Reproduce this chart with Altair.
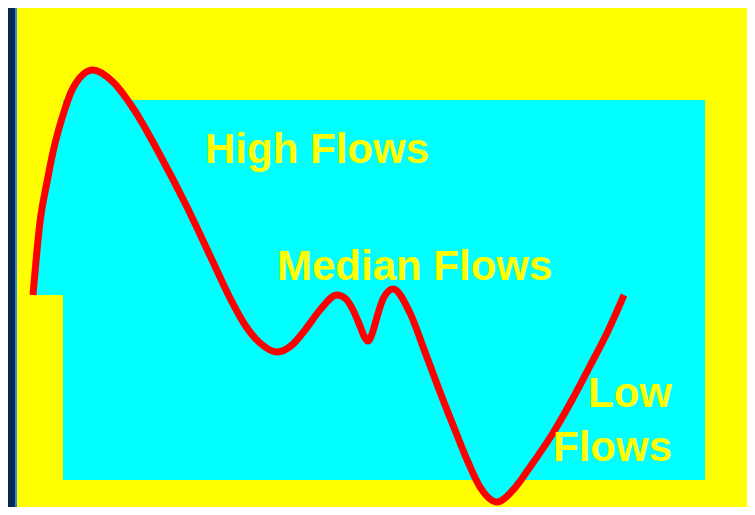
import altair as alt
import pandas as pd

# Hydrograph-style curve (x = position, y = level, screen-like units, y grows downward)
curve_x = [33, 40, 47, 53, 63, 73, 93, 113, 133, 160, 187, 213, 230, 245, 260, 277, 292, 305, 320,
           337, 346, 353, 360, 364, 368, 372, 377, 383, 393, 410, 425, 440, 455, 468, 480, 497,
           513, 530, 553, 572, 590, 607, 624]
curve_y = [295, 222, 182, 152, 115, 88, 70, 82, 108, 155, 207, 262, 298, 325, 343, 352, 345, 330, 310,
           295, 299, 310, 326, 336, 341, 334, 317, 299, 289, 313, 352, 392, 430, 462, 487, 502,
           490, 467, 433, 400, 366, 333, 295]
area_base = 295

# Background panels
panel_names = ["frame_dark", "frame_line", "yellow", "cyan"]
panel_x = [8, 15, 17, 63]
panel_x2 = [15, 17, 747, 705]
panel_y = [8, 8, 8, 100]
panel_y2 = [507, 507, 507, 480]
panel_colors = ["#022a52", "#2f86e0", "#FFFF00", "#00FFFF"]

# Labels
label_text = ["High Flows", "Median Flows", "Low", "Flows"]
label_x = [205, 277, 672, 672]
label_y = [163, 280, 407, 461]
label_align = ["left", "left", "right", "right"]

xs = alt.Scale(domain=[8, 747], nice=False, zero=False)
ys = alt.Scale(domain=[8, 507], reverse=True, nice=False, zero=False)

panels = pd.DataFrame({"name": panel_names, "x": panel_x, "x2": panel_x2,
                       "y": panel_y, "y2": panel_y2, "color": panel_colors})
curve = pd.DataFrame({"x": curve_x, "y": curve_y, "base": [area_base] * len(curve_x)})
labels = pd.DataFrame({"text": label_text, "x": label_x, "y": label_y, "align": label_align})

rects = alt.Chart(panels).mark_rect().encode(
    x=alt.X("x:Q", scale=xs, axis=None),
    x2="x2:Q",
    y=alt.Y("y:Q", scale=ys, axis=None),
    y2="y2:Q",
    color=alt.Color("color:N", scale=None),
)

area = alt.Chart(curve).mark_area(color="#00FFFF", interpolate="monotone", opacity=1).encode(
    x=alt.X("x:Q", scale=xs, axis=None),
    y=alt.Y("y:Q", scale=ys, axis=None, stack=None),
    y2="base:Q",
)

line = alt.Chart(curve).mark_line(color="#FF0000", strokeWidth=7, interpolate="monotone",
                                  strokeCap="butt").encode(
    x=alt.X("x:Q", scale=xs, axis=None),
    y=alt.Y("y:Q", scale=ys, axis=None),
)

text_left = alt.Chart(labels[labels["align"] == "left"]).mark_text(
    align="left", baseline="alphabetic", font="Liberation Sans", fontWeight="bold",
    fontSize=42, color="#FFFF00").encode(
    x=alt.X("x:Q", scale=xs, axis=None),
    y=alt.Y("y:Q", scale=ys, axis=None),
    text="text:N",
)
text_right = alt.Chart(labels[labels["align"] == "right"]).mark_text(
    align="right", baseline="alphabetic", font="Liberation Sans", fontWeight="bold",
    fontSize=42, color="#FFFF00").encode(
    x=alt.X("x:Q", scale=xs, axis=None),
    y=alt.Y("y:Q", scale=ys, axis=None),
    text="text:N",
)

chart = alt.layer(rects, area, line, text_left, text_right).properties(
    width=739, height=499,
    autosize=alt.AutoSizeParams(type="none"),
    padding=0,
    background="#022a52",
).configure_view(strokeWidth=0)

chart.save("out.html", embed_options={"renderer": "svg", "actions": False})
